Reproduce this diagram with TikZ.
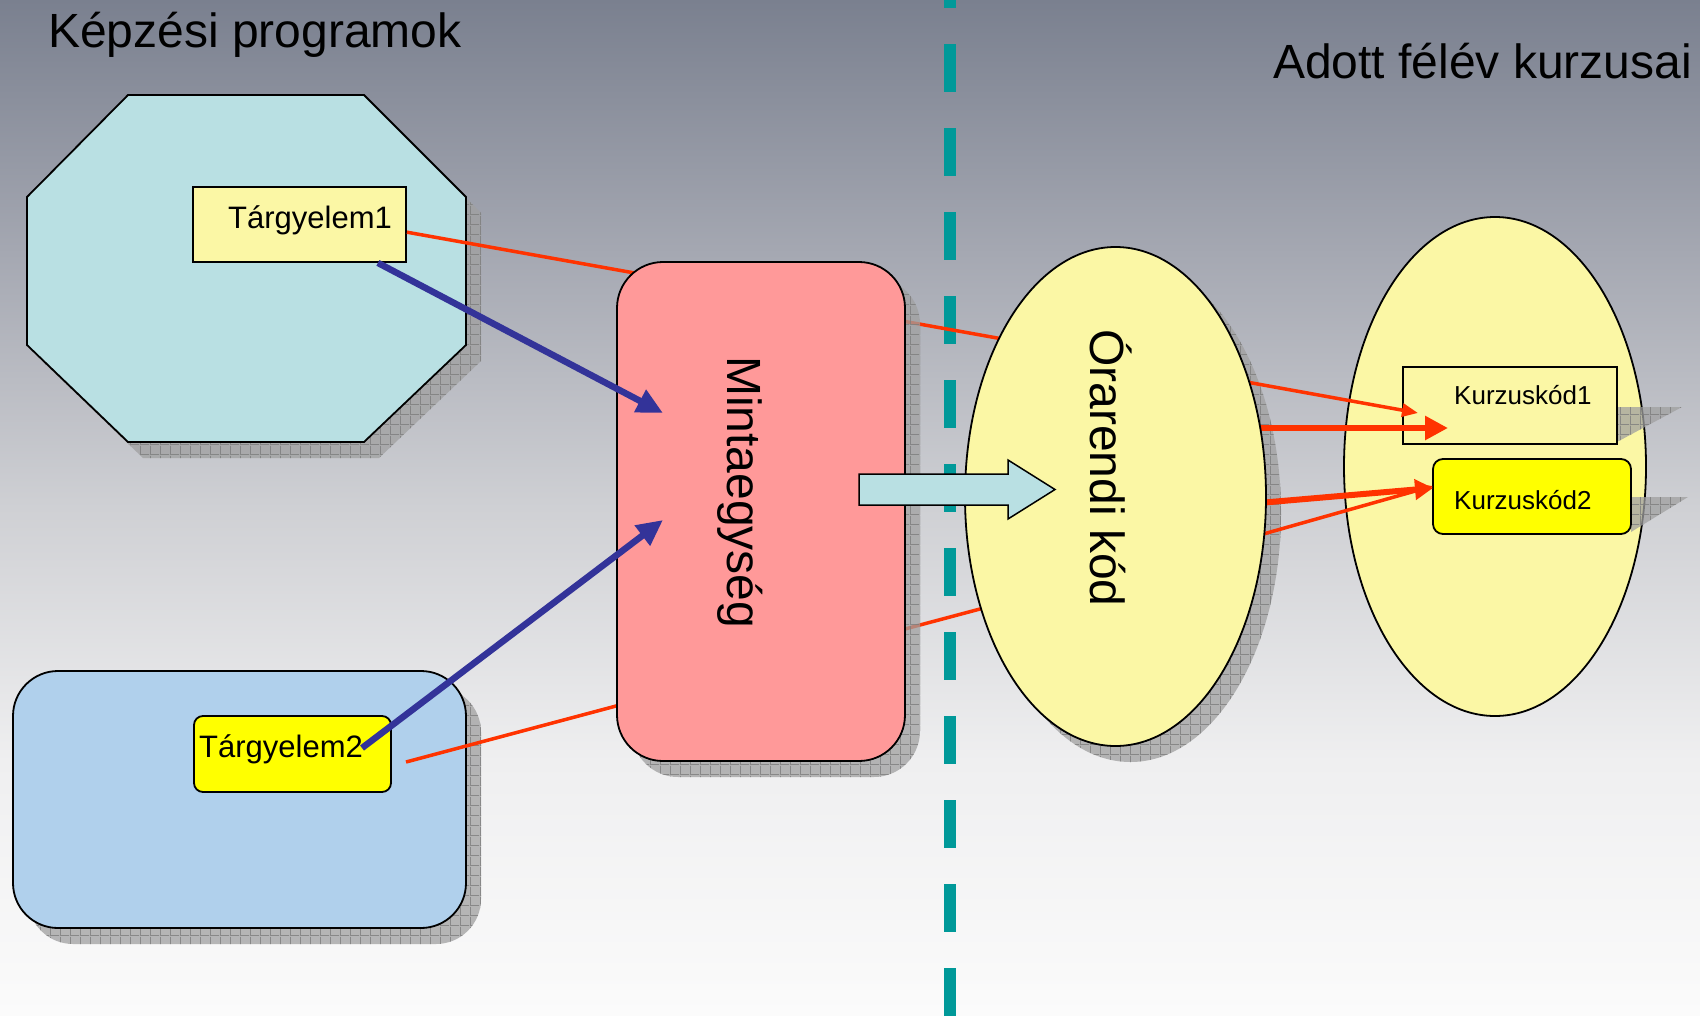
\documentclass[tikz,border=0pt]{standalone}
\usepackage{fontspec}
\setmainfont{Liberation Sans}
\usetikzlibrary{arrows.meta,calc,shapes.geometric,shadows,patterns.meta}
\definecolor{bgA}{RGB}{122,128,143}
\definecolor{bgB}{RGB}{165,168,178}
\definecolor{bgC}{RGB}{207,208,212}
\definecolor{bgD}{RGB}{239,239,240}
\definecolor{bgE}{RGB}{251,251,251}
\definecolor{octfill}{RGB}{185,224,227}
\definecolor{lyellow}{RGB}{251,247,165}
\definecolor{pinkfill}{RGB}{255,153,153}
\definecolor{progblue}{RGB}{176,208,236}
\definecolor{yelfill}{RGB}{255,255,0}
\definecolor{myred}{RGB}{255,51,0}
\definecolor{myblue}{RGB}{51,51,153}
\definecolor{myteal}{RGB}{0,153,153}
\definecolor{shadowgray}{RGB}{160,160,160}
\definecolor{gridgray}{RGB}{125,125,125}
\pgfdeclareverticalshading{bgshade}{100bp}{color(0bp)=(bgE); color(25bp)=(bgE); color(37.5bp)=(bgD); color(50bp)=(bgC); color(62.5bp)=(bgB); color(75bp)=(bgA); color(100bp)=(bgA)}
\pgfdeclarepattern{name=shadgrid, type=uncolored,
  bottom left={\pgfpoint{0pt}{0pt}}, top right={\pgfpoint{10pt}{10pt}},
  tile size={\pgfpoint{10pt}{10pt}},
  code={\pgfsetlinewidth{1pt}
    \pgfpathmoveto{\pgfpoint{0pt}{0.5pt}}\pgfpathlineto{\pgfpoint{10pt}{0.5pt}}
    \pgfpathmoveto{\pgfpoint{0.5pt}{0pt}}\pgfpathlineto{\pgfpoint{0.5pt}{10pt}}
    \pgfusepath{stroke}}}
\begin{document}
\begin{tikzpicture}[x=1pt,y=-1pt,
  outl/.style={draw=black,line width=1.8pt},
  shad/.style={
    drop shadow={shadow xshift=15pt,shadow yshift=-16pt,fill=shadowgray,opacity=0.75,draw=none},
    drop shadow={shadow xshift=15pt,shadow yshift=-16pt,pattern={shadgrid},pattern color=gridgray,opacity=0.8,draw=none}},
  shadfill/.style={fill=shadowgray,fill opacity=0.75},
  shadgridfill/.style={pattern={shadgrid},pattern color=gridgray,fill opacity=0.8},
  redthin/.style={draw=myred,line width=3.5pt},
  redthick/.style={draw=myred,line width=6pt},
  bluearrow/.style={draw=myblue,line width=6.5pt,-{Triangle[length=26pt,width=24pt]}},
  divider/.style={draw=myteal,line width=12pt,dash pattern=on 48pt off 36pt},
  big/.style={font=\fontsize{48}{56}\selectfont,inner sep=0pt},
  mid/.style={font=\fontsize{31}{36}\selectfont,inner sep=0pt},
  small/.style={font=\fontsize{26}{30}\selectfont,inner sep=0pt},
  boxnode/.style={outl,inner sep=0pt}
]
\useasboundingbox (0,0) rectangle (1700,1015);
\clip (0,0) rectangle (1700,1015);
\shade[shading=bgshade] (0,0) rectangle (1700,1015);

% divider
\coordinate (dtop) at (950,-40);
\coordinate (dbot) at (950,1100);
\draw[divider] (dtop) -- (dbot);

% octagon (Képzési program 1)
\draw[outl,fill=octfill,shad] (128,95) -- (364,95) -- (466,197) -- (466,345) -- (364,442) -- (128,442) -- (27,345) -- (27,197) -- cycle;
\coordinate (prog1) at (246.5,268.5);

% rounded program box
\node[boxnode,fill=progblue,rounded corners=45pt,minimum width=453pt,minimum height=257pt,shad] (prog2) at (239.5,799.5) {};

% Tárgyelem boxes
\node[boxnode,fill=lyellow,minimum width=213pt,minimum height=75pt] (t1) at (299.5,224.5) {};
\node[mid,anchor=base west] (t1lbl) at (228,228) {Tárgyelem1};
\node[boxnode,fill=yelfill,rounded corners=9pt,minimum width=197pt,minimum height=76pt] (t2) at (292.5,754) {};
\node[mid,anchor=base west] (t2lbl) at (199,757) {Tárgyelem2};

% red lines behind Mintaegység
\coordinate (r1s) at ($(t1.south east)!0.4!(t1.north east)$);
\coordinate (r1e) at (1010,340.3);
\draw[redthin] (r1s) -- (r1e);
\coordinate (r2s) at (406,762);
\coordinate (r2e) at (995,605);
\draw[redthin] (r2s) -- (r2e);

% Mintaegység
\node[boxnode,fill=pinkfill,rounded corners=46pt,minimum width=288pt,minimum height=499pt,shad] (minta) at (761,511.5) {};
\node[big,rotate=-90,anchor=base west] (mintalbl) at (727,356) {Mintaegység};

% right ellipse (kurzusok)
\node[boxnode,ellipse,fill=lyellow,minimum width=302pt,minimum height=499pt] (kurz) at (1495,466.5) {};
\fill[shadfill] (1617,407) -- (1682,407) -- (1617,442) -- cycle;
\fill[shadgridfill] (1617,407) -- (1682,407) -- (1617,442) -- cycle;
\fill[shadfill] (1631,497) -- (1688,497) -- (1631,532) -- cycle;
\fill[shadgridfill] (1631,497) -- (1688,497) -- (1631,532) -- cycle;
\node[boxnode,fill=lyellow,minimum width=214pt,minimum height=77pt] (k1) at (1510,405.5) {};
\node[small,anchor=base west] (k1lbl) at (1454,404) {Kurzuskód1};
\node[boxnode,fill=yelfill,rounded corners=10pt,minimum width=198pt,minimum height=75pt] (k2) at (1532,496.5) {};
\node[small,anchor=base west] (k2lbl) at (1454,509) {Kurzuskód2};

% Órarendi kód shadow, arrows, ellipse
\fill[shadfill] (1130.5,512.5) ellipse [x radius=150.5, y radius=249.5];
\fill[shadgridfill] (1130.5,512.5) ellipse [x radius=150.5, y radius=249.5];
\coordinate (a1s) at (1230,379);
\coordinate (a1e) at (1418,413);
\coordinate (a2s) at (1240,428);
\coordinate (a2e) at (1448,428);
\coordinate (a3s) at (1240,504.6);
\coordinate (a3e) at (1433,488);
\coordinate (a4s) at (1240,540.6);
\coordinate (a4e) at (1433,486);
\draw[redthin,-{Triangle[length=16pt,width=13pt]}] (a1s) -- (a1e);
\draw[redthick,-{Triangle[length=23pt,width=23pt]}] (a2s) -- (a2e);
\draw[redthin,-{Triangle[length=16pt,width=13pt]}] (a4s) -- (a4e);
\draw[redthick,-{Triangle[length=18pt,width=20pt]}] (a3s) -- (a3e);
\node[boxnode,ellipse,fill=lyellow,minimum width=301pt,minimum height=499pt] (ora) at (1115.5,496.5) {};
\node[big,rotate=-90,anchor=base west] (oralbl) at (1090,329) {Órarendi kód};

% block arrow
\draw[draw=black,line width=1.5pt,fill=octfill] (859,474) -- (1008,474) -- (1008,460) -- (1055,489.5) -- (1008,519) -- (1008,505) -- (859,505) -- cycle;

% blue arrows
\coordinate (b1s) at ($(t1.south east)+(-29,0)$);
\coordinate (b1e) at (663,413);
\coordinate (b2s) at (362,748);
\coordinate (b2e) at (663,520);
\draw[bluearrow] (b1s) -- (b1e);
\draw[bluearrow] (b2s) -- (b2e);

% titles
\node[big,anchor=base west] (title1) at (48,47) {Képzési programok};
\node[big,anchor=base west] (title2) at (1273,78) {Adott félév kurzusai};
\end{tikzpicture}
\end{document}
